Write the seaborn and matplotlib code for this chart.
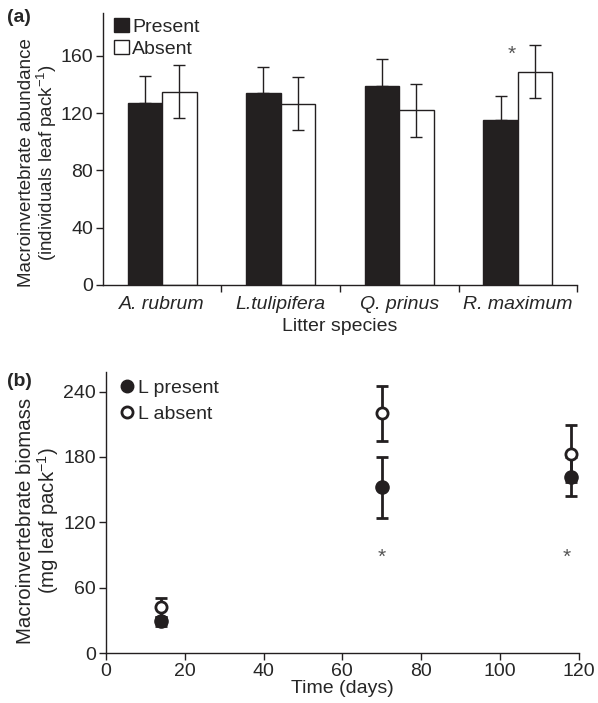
import numpy as np
import pandas as pd
import matplotlib
matplotlib.use("Agg")
import matplotlib.pyplot as plt
import seaborn as sns
from matplotlib.patches import Patch
from matplotlib.lines import Line2D

# ---- data panel (a)
species = ["A. rubrum", "L.tulipifera", "Q. prinus", "R. maximum"]
present_abund = [127, 134, 139, 115]
present_err = [19, 18, 19, 17]
absent_abund = [135, 126.5, 122, 149]
absent_err = [18.5, 18.5, 18.5, 18.5]

# ---- data panel (b)
days = [14, 70, 118]
present_bio = [29, 152, 162]
present_bio_err = [4, 28, 17.5]
absent_bio = [42, 220, 183]
absent_bio_err = [9, 25, 26]

sns.set_style("ticks")
plt.rcParams['font.family'] = ['Liberation Sans', 'DejaVu Sans']
plt.rcParams['mathtext.fontset'] = 'custom'
plt.rcParams['mathtext.rm'] = 'Liberation Sans'
plt.rcParams['mathtext.it'] = 'Liberation Sans:italic'
FS = 14
plt.rcParams['font.size'] = FS

DARK = "#231f20"
fig = plt.figure(figsize=(5.98, 7.03), dpi=100)
ax1 = fig.add_axes([0.172, 0.5946, 0.793, 0.387])
ax2 = fig.add_axes([0.177, 0.071, 0.791, 0.400])

df = pd.DataFrame({
    "species": species * 2,
    "cond": ["Present"] * 4 + ["Absent"] * 4,
    "val": present_abund + absent_abund,
})
sns.barplot(data=df, x="species", y="val", hue="cond", order=species,
            hue_order=["Present", "Absent"],
            palette={"Present": DARK, "Absent": "white"},
            edgecolor=DARK, linewidth=1.0, width=0.58, ax=ax1, legend=False,
            errorbar=None)
bars = [p for p in ax1.patches if p.get_height() > 0]
bars_sorted = sorted(bars, key=lambda p: p.get_x())
for i, p in enumerate(bars_sorted):
    g, k = divmod(i, 2)
    xc = p.get_x() + p.get_width() / 2
    if k == 0:
        ax1.errorbar(xc, present_abund[g], yerr=[[0], [present_err[g]]],
                     fmt='none', ecolor=DARK, elinewidth=1.0, capsize=4, capthick=1.0)
    else:
        ax1.errorbar(xc, absent_abund[g], yerr=[[absent_err[g]], [absent_err[g]]],
                     fmt='none', ecolor=DARK, elinewidth=1.0, capsize=4, capthick=1.0)
        if g == 3:
            ax1.text(xc - 0.2, 161, "*", ha='center', va='center', fontsize=15, color='#555555')

ax1.set_xlim(-0.5, 3.5)
ax1.set_ylim(0, 190)
ax1.set_yticks([0, 40, 80, 120, 160])
ax1.set_xticks(range(4))
ax1.set_xticklabels(species, style='italic')
ax1.set_xticks([0.5, 1.5, 2.5, 3.5], minor=True)
ax1.tick_params(axis='x', which='major', length=0, pad=8)
ax1.tick_params(axis='x', which='minor', length=5, width=1, color=DARK)
ax1.tick_params(axis='y', length=5, width=1, color=DARK, pad=2)
ax1.set_xlabel("Litter species", fontsize=FS)
ax1.xaxis.set_label_coords(0.5, -0.12)
ax1.set_ylabel("Macroinvertebrate abundance\n(individuals leaf pack$^{-1}$)", fontsize=13.5, linespacing=1.0)
ax1.yaxis.set_label_coords(-0.092, 0.45)
for s in ["top", "right"]:
    ax1.spines[s].set_visible(False)
for s in ["left", "bottom"]:
    ax1.spines[s].set_color(DARK)
    ax1.spines[s].set_linewidth(1.0)
leg_handles = [Patch(facecolor=DARK, edgecolor=DARK, label="Present"),
               Patch(facecolor="white", edgecolor=DARK, label="Absent")]
ax1.legend(handles=leg_handles, loc='upper left', bbox_to_anchor=(0.008, 1.01),
           frameon=False, handlelength=0.75, handleheight=0.75, handletextpad=0.15,
           labelspacing=0.2, borderaxespad=0, fontsize=FS)
fig.text(0.012, 0.975, "(a)", fontweight='bold', fontsize=FS, va='center')

# ---- panel (b)
dfb = pd.DataFrame({
    "day": days * 2,
    "val": present_bio + absent_bio,
    "cond": ["L present"] * 3 + ["L absent"] * 3,
})
ax2.errorbar(days, absent_bio, yerr=absent_bio_err, fmt='none', ecolor=DARK,
             elinewidth=2, capsize=4, capthick=2, zorder=2)
ax2.errorbar(days, present_bio, yerr=present_bio_err, fmt='none', ecolor=DARK,
             elinewidth=2, capsize=4, capthick=2, zorder=2)
sns.scatterplot(data=dfb[dfb.cond == "L present"], x="day", y="val", ax=ax2,
                color=DARK, edgecolor=DARK, s=90, linewidth=1, zorder=3, legend=False)
sns.scatterplot(data=dfb[dfb.cond == "L absent"], x="day", y="val", ax=ax2,
                color="white", edgecolor=DARK, s=65, linewidth=2, zorder=4, legend=False)
for d in [70, 117]:
    ax2.text(d, 88, "*", ha='center', va='center', fontsize=15, color='#555555')
ax2.set_xlim(0, 120)
ax2.set_ylim(0, 258)
ax2.set_xticks([0, 20, 40, 60, 80, 100, 120])
ax2.set_yticks([0, 60, 120, 180, 240])
ax2.tick_params(length=5, width=1, color=DARK, pad=2)
ax2.set_xlabel("Time (days)", fontsize=FS)
ax2.xaxis.set_label_coords(0.5, -0.097)
ax2.set_ylabel("Macroinvertebrate biomass\n(mg leaf pack$^{-1}$)", fontsize=14.7, linespacing=1.0)
ax2.yaxis.set_label_coords(-0.094, 0.47)
for s in ["top", "right"]:
    ax2.spines[s].set_visible(False)
for s in ["left", "bottom"]:
    ax2.spines[s].set_color(DARK)
    ax2.spines[s].set_linewidth(1.0)
lh = [Line2D([], [], marker='o', ls='none', color=DARK, markerfacecolor=DARK, markersize=9, label="L present"),
      Line2D([], [], marker='o', ls='none', color=DARK, markerfacecolor='white', markeredgewidth=2, markersize=8, label="L absent")]
ax2.legend(handles=lh, loc='upper left', bbox_to_anchor=(0.015, 1.0), frameon=False,
           handlelength=0.6, handletextpad=0.3, labelspacing=0.4, borderaxespad=0, fontsize=FS)
fig.text(0.012, 0.458, "(b)", fontweight='bold', fontsize=FS, va='center')

fig.savefig("out.png", dpi=100)
